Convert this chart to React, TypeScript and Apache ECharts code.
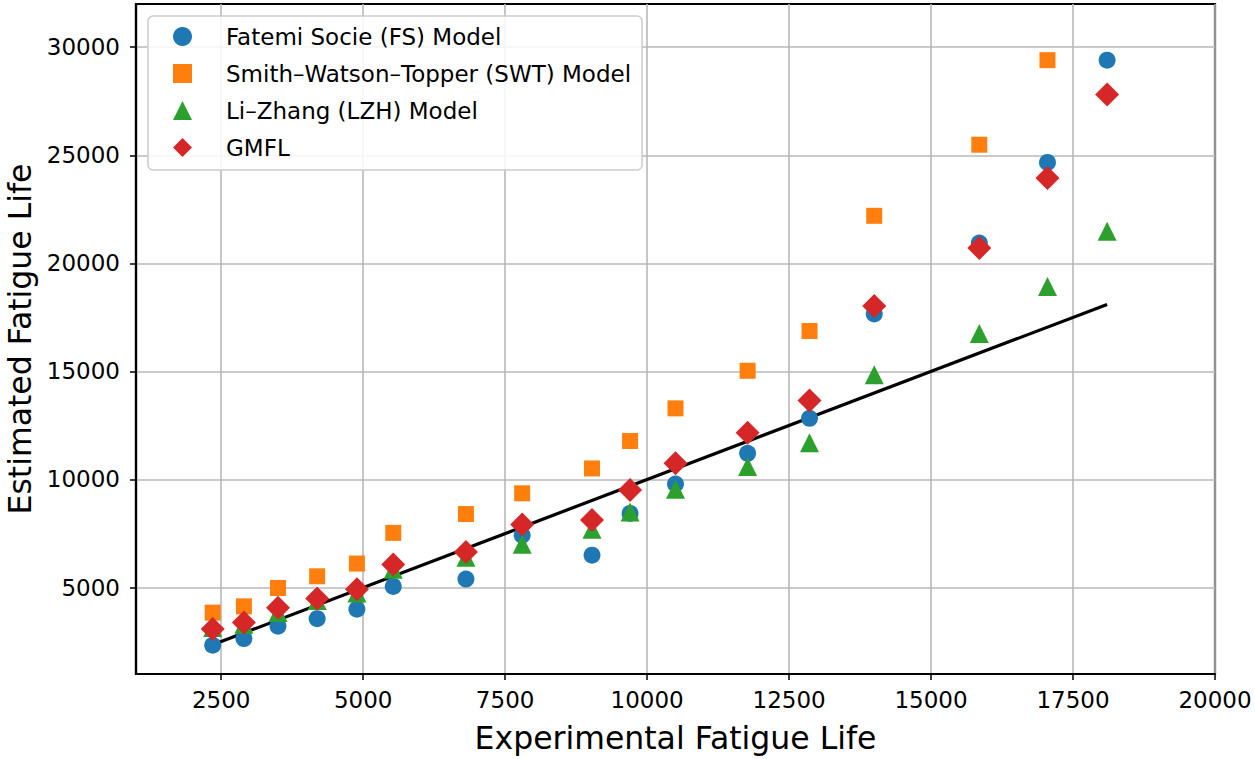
import React, { useEffect, useRef } from "react";
import * as echarts from "echarts";

// Experimental fatigue life (x) for each specimen
const expLife = [2350, 2900, 3500, 4190, 4890, 5530, 6810, 7800, 9030, 9700, 10500, 11770, 12860, 14000, 15850, 17050, 18100];
// Estimated fatigue life per model
const fsModel = [2330, 2640, 3210, 3560, 4000, 5050, 5390, 7420, 6500, 8430, 9790, 11210, 12830, 17660, 20940, 24670, 29400];
// last SWT point lies above the plotted range (not visible)
const swtModel = [3840, 4130, 4980, 5520, 6110, 7530, 8400, 9360, 10510, 11780, 13290, 15030, 16870, 22200, 25490, 29400];
const lzhModel = [3150, 3300, 3850, 4400, 4750, 5850, 6400, 7000, 7700, 8500, 9550, 10600, 11700, 14850, 16750, 18930, 21480];
const gmflModel = [3080, 3380, 4070, 4490, 4920, 6070, 6640, 7920, 8120, 9510, 10750, 12160, 13650, 18030, 20710, 23950, 27810];

const xTicks = [2500, 5000, 7500, 10000, 12500, 15000, 17500, 20000];
const yTicks = [5000, 10000, 15000, 20000, 25000, 30000];

const seriesNames = [
  "Fatemi Socie (FS) Model",
  "Smith\u2013Watson\u2013Topper (SWT) Model",
  "Li\u2013Zhang (LZH) Model",
  "GMFL",
];
const seriesColors = ["#1f77b4", "#ff7f0e", "#2ca02c", "#d62728"];
const seriesSymbols = ["circle", "rect", "triangle", "diamond"];
const seriesSizes = [17, 16, 19, 24];
const seriesValues = [fsModel, swtModel, lzhModel, gmflModel];

const FONT = "DejaVu Sans";

export default function App() {
  const ref = useRef<HTMLDivElement>(null);
  useEffect(() => {
    if (!ref.current) return;
    const chart = echarts.init(ref.current, undefined, { renderer: "svg" });

    const scatterSeries = seriesNames.map((name, k) => ({
      name,
      type: "scatter",
      symbol: seriesSymbols[k],
      symbolSize: seriesSizes[k],
      itemStyle: { color: seriesColors[k], opacity: 1 },
      data: seriesValues[k].map((v, i) => [expLife[i], v]),
      z: 3 + k,
    }));

    const first = expLife[0];
    const last = expLife[expLife.length - 1];
    const plain = (v: number) => String(v);

    chart.setOption({
      animation: false,
      backgroundColor: "#ffffff",
      grid: {
        left: 136,
        right: 40,
        top: 4,
        bottom: 85,
        containLabel: false,
        outerBoundsMode: "none",
        show: true,
        borderColor: "#000",
        borderWidth: 2.2,
        backgroundColor: "transparent",
      },
      legend: {
        orient: "vertical",
        left: 148,
        top: 16,
        data: seriesNames,
        itemWidth: 19,
        itemHeight: 19,
        itemGap: 14,
        padding: [9, 11, 11, 25],
        backgroundColor: "rgba(255,255,255,0.85)",
        borderColor: "#cccccc",
        borderWidth: 1.5,
        borderRadius: 5,
        textStyle: {
          fontFamily: FONT,
          fontSize: 23,
          color: "#000",
          padding: [0, 0, 0, 29],
        },
      },
      xAxis: {
        type: "value",
        min: 1000,
        max: 20000,
        name: "Experimental Fatigue Life",
        nameLocation: "middle",
        nameGap: 48,
        nameTextStyle: { fontFamily: FONT, fontSize: 31.5, color: "#000" },
        axisLine: { show: true, lineStyle: { color: "#000", width: 2.2 } },
        axisTick: { show: true, customValues: xTicks, length: 6, lineStyle: { color: "#000", width: 1.5 } },
        axisLabel: { customValues: xTicks, formatter: plain, fontFamily: FONT, fontSize: 23, color: "#000", margin: 14 },
        splitLine: { show: true, lineStyle: { color: "#b8b8b8", width: 1.6 } },
      },
      yAxis: {
        type: "value",
        min: 1000,
        max: 32000,
        name: "Estimated Fatigue Life",
        nameLocation: "middle",
        nameGap: 100,
        nameTextStyle: { fontFamily: FONT, fontSize: 31.5, color: "#000" },
        axisLine: { show: true, lineStyle: { color: "#000", width: 2.2 } },
        axisTick: { show: true, customValues: yTicks, length: 6, lineStyle: { color: "#000", width: 1.5 } },
        axisLabel: { customValues: yTicks, formatter: plain, fontFamily: FONT, fontSize: 23, color: "#000", margin: 16 },
        splitLine: { show: true, lineStyle: { color: "#b8b8b8", width: 1.6 } },
      },
      series: [
        {
          name: "1:1 line",
          type: "line",
          data: [
            [first, first],
            [last, last],
          ],
          symbol: "none",
          lineStyle: { color: "#000", width: 3.2 },
          z: 2,
          silent: true,
        },
        ...scatterSeries,
      ],
    });
    return () => chart.dispose();
  }, []);

  return (
    <div
      ref={ref}
      style={{ position: "fixed", left: 0, top: 0, width: 1255, height: 759, background: "#fff" }}
    />
  );
}
